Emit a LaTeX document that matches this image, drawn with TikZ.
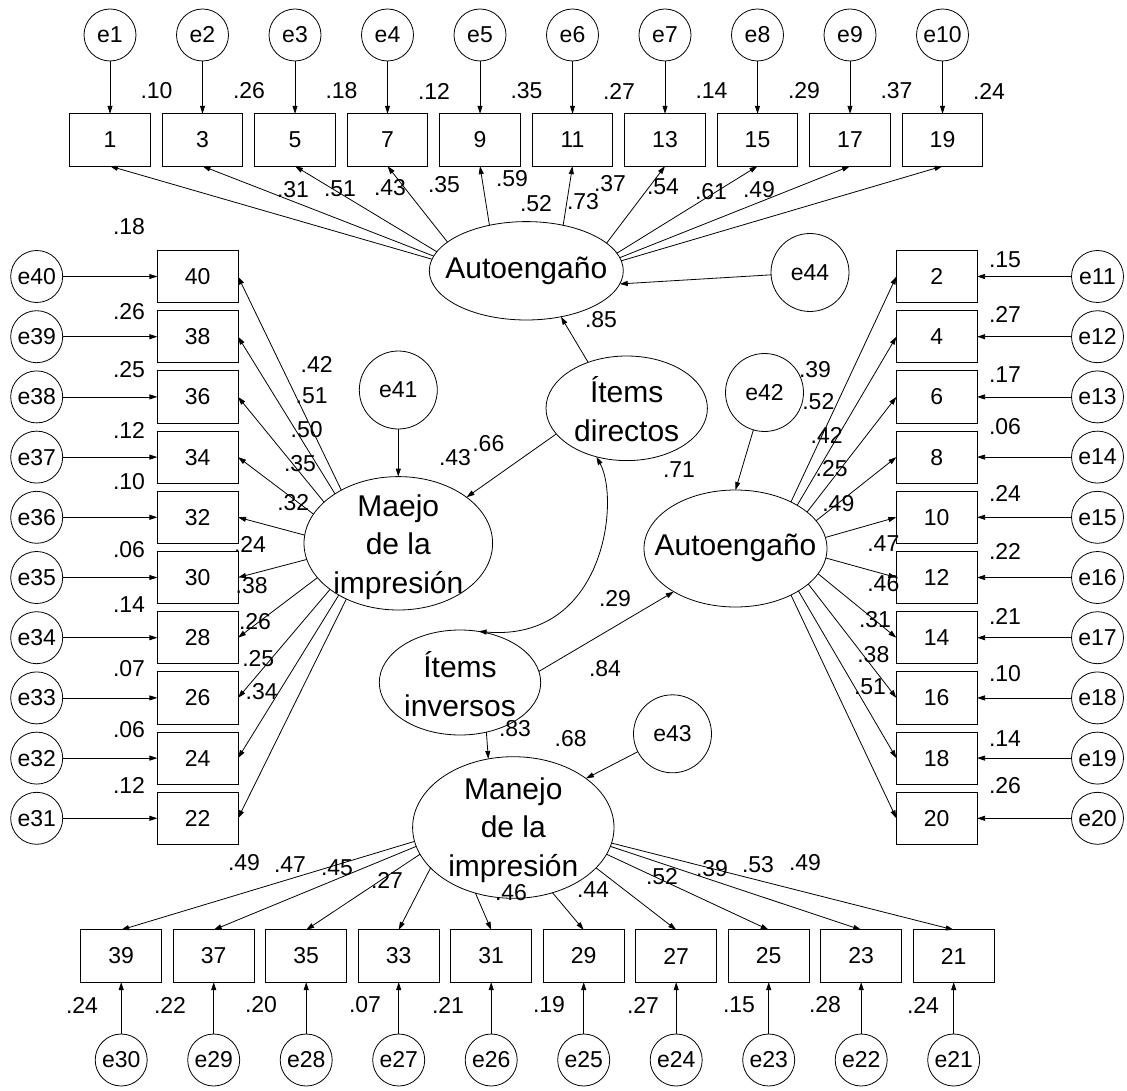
\documentclass[tikz,border=0pt]{standalone}
\usepackage{fontspec}
\setmainfont{Liberation Sans}
\usetikzlibrary{arrows.meta,shapes.geometric}
\begin{document}
\begin{tikzpicture}[x=1pt,y=-1pt,
  every node/.style={inner sep=0pt, outer sep=0pt},
  obs/.style={draw, line width=0.8pt, rectangle, minimum width=80.7pt, minimum height=52.3pt, font=\fontsize{23}{27}\selectfont},
  err/.style={draw, line width=0.8pt, circle, minimum size=52pt, font=\fontsize{23}{27}\selectfont},
  dist/.style={draw, line width=0.8pt, circle, minimum size=78pt, font=\fontsize{23}{27}\selectfont},
  lat/.style={draw, line width=0.8pt, ellipse},
  latxt/.style={font=\fontsize{30}{38.5}\selectfont, align=center},
  num/.style={font=\fontsize{23}{27}\selectfont},
  arr/.style={line width=0.8pt, -{Triangle[length=8pt,width=5pt]}},
  darr/.style={line width=0.8pt, {Triangle[length=8pt,width=5pt]}-{Triangle[length=8pt,width=5pt]}},
]
\useasboundingbox (0,0) rectangle (1127,1091);

% ---------- latent variables ----------
\node[lat, minimum width=194pt, minimum height=98.4pt] (A) at (526.3,270.8) {};
\node[latxt] (At) at (526.3,271) {Autoengaño};
\node[lat, minimum width=161.4pt, minimum height=104.6pt] (Id) at (626.7,408.3) {};
\node[latxt] (Idt) at (626.7,409) {Ítems\\directos};
\node[lat, minimum width=188.6pt, minimum height=133.4pt] (Mj) at (398.3,543.3) {};
\node[latxt] (Mjt) at (398.3,547) {Maejo\\de la\\impresión};
\node[lat, minimum width=183pt, minimum height=117pt] (R) at (735.5,548.5) {};
\node[latxt] (Rt) at (735.5,548) {Autoengaño};
\node[lat, minimum width=161.4pt, minimum height=105pt] (Ii) at (460,682.5) {};
\node[latxt] (Iit) at (460,684) {Ítems\\inversos};
\node[lat, minimum width=201.4pt, minimum height=141.6pt] (Mn) at (513.3,827.5) {};
\node[latxt] (Mnt) at (513.3,830) {Manejo\\de la\\impresión};

% disturbances
\node[dist] (e41) at (398.3,390) {e41};
\node[dist] (e42) at (764.5,392.5) {e42};
\node[dist] (e44) at (810,272.5) {e44};
\node[dist] (e43) at (672.5,733.8) {e43};

% ---------- top row ----------
\foreach \i in {1,...,10} {
  \pgfmathtruncatemacro\lab{2*\i-1}
  \pgfmathsetmacro\xx{110+92.5*(\i-1)}
  \node[obs] (b\lab) at (\xx,140) {\lab};
  \node[err] (e\i) at (\xx,35) {e\i};
  \draw[arr] (e\i) -- (b\lab);
}
\foreach \i/\v in {1/.10,2/.26,3/.18,4/.12,5/.35,6/.27,7/.14,8/.29,9/.37,10/.24}
  \node[num] (rt\i) at ({156.5+92.5*(\i-1)},91) {\v};
\foreach \lab/\ang in {1/173.6,3/171.5,5/168.3,7/160.3,9/129,11/51.7,13/19.7,15/11.7,17/8.5,19/6.4}
  \draw[arr] (A.\ang) -- (b\lab.south);
\foreach \n/\px/\py/\v in {1/293/190/.31,2/340/189/.51,3/390/188/.43,4/444/185/.35,5/512/179/.59,6/536/204/.52,7/583/202/.73,8/610/184/.37,9/663/187/.54,10/711/192/.61,11/759/190/.49}
  \node[num] (lt\n) at (\px,\py) {\v};

% ---------- left column ----------
\foreach \k in {0,...,9} {
  \pgfmathtruncatemacro\ei{40-\k}
  \pgfmathtruncatemacro\lab{40-2*\k}
  \pgfmathsetmacro\yy{276.5+60.2*\k}
  \node[obs] (b\lab) at (197.7,\yy) {\lab};
  \node[err] (e\ei) at (36.7,\yy) {e\ei};
  \draw[arr] (e\ei) -- (b\lab);
}
\foreach \lab/\py/\v in {40/227/.18,38/311.7/.26,36/370/.25,34/430.7/.12,32/481.7/.10,30/550/.06,28/605/.14,26/669/.07,24/730/.06,22/785.7/.12}
  \node[num] (r\lab) at (129,\py) {\v};
\foreach \lab/\ang in {40/137.6,38/142.8,36/151.9,34/161.6,32/175,30/190,28/203.4,26/214.3,24/221,22/227.4}
  \draw[arr] (Mj.\ang) -- (b\lab.east);
\foreach \lab/\px/\py/\v in {40/316.7/364/.42,38/311.7/396/.51,36/306.7/429.3/.50,34/300/464/.35,32/293.3/502.7/.32,30/250/544/.24,28/251.7/586/.38,26/255/621.7/.26,24/258.3/658.3/.25,22/261.7/691.7/.34}
  \node[num] (l\lab) at (\px,\py) {\v};

% ---------- right column ----------
\foreach \k in {0,...,9} {
  \pgfmathtruncatemacro\ei{11+\k}
  \pgfmathtruncatemacro\lab{2+2*\k}
  \pgfmathsetmacro\yy{276.5+60.2*\k}
  \node[obs] (b\lab) at (936.7,\yy) {\lab};
  \node[err] (e\ei) at (1097.5,\yy) {e\ei};
  \draw[arr] (e\ei) -- (b\lab);
}
\foreach \lab/\py/\v in {2/259.3/.15,4/314.3/.27,6/375/.17,8/426.7/.06,10/493.3/.24,12/551.7/.22,14/616.7/.21,16/673.3/.10,18/738.3/.14,20/785.7/.26}
  \node[num] (r\lab) at (1005,\py) {\v};
\foreach \lab/\ang in {2/40.8,4/35.3,6/27.8,8/19.2,10/7,12/-6.2,14/-17.7,16/-26.6,18/-34.1,20/-40.6}
  \draw[arr] (R.\ang) -- (b\lab.west);
\foreach \lab/\px/\py/\v in {2/815/370/.39,4/818.3/401.7/.52,6/826.7/435/.42,8/831.7/468.3/.25,10/838.3/504/.49,12/883.3/544/.47,14/883.3/583.3/.46,16/875/620/.31,18/873.3/655/.38,20/870/686.7/.51}
  \node[num] (l\lab) at (\px,\py) {\v};

% ---------- bottom row ----------
\foreach \k in {0,...,9} {
  \pgfmathtruncatemacro\ei{30-\k}
  \pgfmathtruncatemacro\lab{39-2*\k}
  \pgfmathsetmacro\xx{121.2+92.5*\k}
  \node[obs] (b\lab) at (\xx,956) {\lab};
  \node[err] (e\ei) at (\xx,1060) {e\ei};
  \draw[arr] (e\ei) -- (b\lab);
}
\foreach \lab/\px/\v in {39/82/.24,37/170/.22,35/261/.20,33/365/.07,31/448/.21,29/549/.19,27/643/.27,25/739/.15,23/825/.28,21/923/.24}
  \node[num] (r\lab) at (\px,1005) {\v};
\foreach \lab/\ang in {39/188.1,37/191,35/196.1,33/206.9,31/240.4,29/-59.7,27/-26.5,25/-16,23/-11,21/-9}
  \draw[arr] (Mn.\ang) -- (b\lab.north);
\foreach \lab/\px/\py/\v in {39/244/863/.49,37/290/865/.47,35/337/868/.45,33/387/880/.27,31/511/893/.46,29/593/890/.44,27/662/877/.52,25/712/869/.39,23/758/865/.53,21/805/863/.49}
  \node[num] (l\lab) at (\px,\py) {\v};

% ---------- structural paths ----------
\draw[arr] (e44) -- (A.-8.4);
\draw[arr] (Id.130.6) -- (A.-53.3);
\draw[arr] (Id.200.4) -- (Mj.34);
\draw[arr] (e41) -- (Mj.90);
\draw[arr] (e42) -- (R.90);
\draw[arr] (Ii.8.2) -- (R.215.5);
\draw[arr] (Ii.-62.4) -- (Mn.110);
\draw[arr] (e43) -- (Mn.34);
\draw[darr] (Ii.70) .. controls (605,642) and (620,500) .. (Id.238);

\node[num] (p85) at (601,319.3) {.85};
\node[num] (p43) at (455,457.7) {.43};
\node[num] (p66) at (488.3,443.3) {.66};
\node[num] (p71) at (679,469.3) {.71};
\node[num] (p29) at (615,598.3) {.29};
\node[num] (p84) at (605,668.3) {.84};
\node[num] (p83) at (515,728.3) {.83};
\node[num] (p68) at (570.7,738.3) {.68};
\end{tikzpicture}
\end{document}
